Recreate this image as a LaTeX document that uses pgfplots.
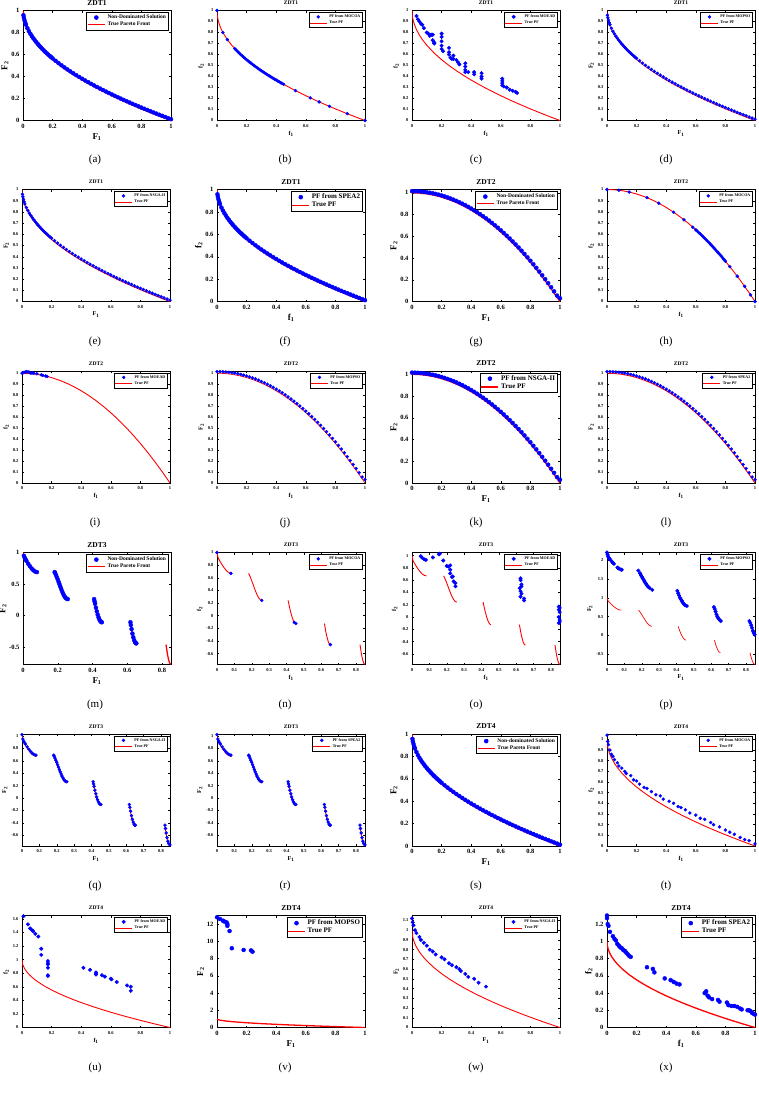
\documentclass[border=0pt]{standalone}
\usepackage{pgfplots}
\pgfplotsset{compat=1.18}
\usepackage{pgfplotstable}
\usepackage{fontspec}
\setmainfont{Liberation Serif}

\pgfplotstableread{
x y
0 1
0.002 0.9553
0.005 0.9293
0.01 0.9
0.02 0.8586
0.03 0.8268
0.05 0.7764
0.07 0.7354
0.1 0.6838
0.15 0.6127
0.2 0.5528
0.25 0.5
0.3 0.4523
0.35 0.4084
0.4 0.3675
0.45 0.3292
0.5 0.2929
0.55 0.2584
0.6 0.2254
0.65 0.1938
0.7 0.1633
0.75 0.1340
0.8 0.1056
0.85 0.0780
0.9 0.0513
0.95 0.0253
1 0
}\zdtonePF

\pgfplotstableread{
x y
0 1.01
0.003 0.957
0.006 0.9345
0.01 0.912
0.015 0.8895
0.02 0.8706
0.03 0.8388
0.04 0.812
0.05 0.7884
0.06 0.7671
0.07 0.7474
0.08 0.7292
0.09 0.712
0.1 0.6958
0.11 0.6803
0.12 0.6656
0.13 0.6514
0.14 0.6378
0.15 0.6247
0.16 0.612
0.17 0.5997
0.18 0.5877
0.19 0.5761
0.2 0.5648
0.22 0.543
0.24 0.5221
0.26 0.5021
0.28 0.4828
0.3 0.4643
0.32 0.4463
0.34 0.4289
0.36 0.412
0.38 0.3956
0.4 0.3795
0.42 0.3639
0.44 0.3487
0.46 0.3338
0.48 0.3192
0.5 0.3049
0.52 0.2909
0.54 0.2772
0.56 0.2637
0.58 0.2504
0.6 0.2374
0.62 0.2246
0.64 0.212
0.66 0.1996
0.68 0.1874
0.7 0.1753
0.72 0.1635
0.74 0.1518
0.76 0.1402
0.78 0.1288
0.8 0.1176
0.82 0.1065
0.84 0.0955
0.86 0.0846
0.88 0.0739
0.9 0.0633
0.92 0.0528
0.94 0.0425
0.96 0.0322
0.98 0.0221
1 0.012
}\zdtonePts

\pgfplotstableread{
x y
0 1
0.05 0.9975
0.1 0.99
0.15 0.9775
0.2 0.96
0.25 0.9375
0.3 0.91
0.35 0.8775
0.4 0.84
0.45 0.7975
0.5 0.75
0.55 0.6975
0.6 0.64
0.65 0.5775
0.7 0.51
0.75 0.4375
0.8 0.36
0.85 0.2775
0.9 0.19
0.95 0.0975
1 0
}\zdttwoPF

\pgfplotstableread{
x y
0 1.015
0.02 1.0146
0.04 1.0134
0.06 1.0114
0.08 1.0086
0.1 1.005
0.12 1.0006
0.14 0.9954
0.16 0.9894
0.18 0.9826
0.2 0.975
0.22 0.9666
0.24 0.9574
0.26 0.9474
0.28 0.9366
0.3 0.925
0.32 0.9126
0.34 0.8994
0.36 0.8854
0.38 0.8706
0.4 0.855
0.42 0.8386
0.44 0.8214
0.46 0.8034
0.48 0.7846
0.5 0.765
0.52 0.7446
0.54 0.7234
0.56 0.7014
0.58 0.6786
0.6 0.655
0.62 0.6306
0.64 0.6054
0.66 0.5794
0.68 0.5526
0.7 0.525
0.72 0.4966
0.74 0.4674
0.76 0.4374
0.78 0.4066
0.8 0.375
0.82 0.3426
0.84 0.3094
0.86 0.2754
0.88 0.2406
0.9 0.205
0.92 0.1686
0.94 0.1314
0.96 0.0934
0.98 0.0546
1 0.03
}\zdttwoPts

\pgfplotstableread{
x y
0 1
0.005 0.9285
0.01 0.8969
0.02 0.8468
0.03 0.8025
0.04 0.7620
0.05 0.7264
0.06 0.6980
0.07 0.6788
0.083 0.6697
nan nan
0.1822 0.6699
0.19 0.6228
0.2 0.5528
0.21 0.4768
0.22 0.4017
0.23 0.3343
0.24 0.2818
0.25 0.25
0.2578 0.2422
nan nan
0.4093 0.2423
0.415 0.1674
0.42 0.105
0.43 -0.0036
0.44 -0.0818
0.45 -0.1208
0.4539 -0.1242
nan nan
0.6184 -0.1242
0.625 -0.2325
0.63 -0.3034
0.64 -0.4087
0.645 -0.4402
0.6525 -0.4583
nan nan
0.8233 -0.4574
0.83 -0.5825
0.835 -0.6578
0.84 -0.7154
0.845 -0.7538
0.8518 -0.7733
}\zdtthreePF

\pgfplotstableread{
x y
0 1.02
0.005 0.9485
0.01 0.9169
0.015 0.8907
0.02 0.8668
0.03 0.8225
0.04 0.782
0.05 0.7464
0.06 0.718
0.07 0.6988
0.08 0.6902
0.1822 0.6899
0.185 0.6739
0.19 0.6428
0.195 0.6089
0.2 0.5728
0.205 0.5351
0.21 0.4968
0.215 0.4587
0.22 0.4217
0.225 0.3866
0.23 0.3543
0.235 0.3258
0.24 0.3018
0.245 0.283
0.25 0.27
0.2578 0.2622
0.4093 0.2623
0.412 0.2264
0.415 0.1874
0.42 0.125
0.425 0.0676
0.43 0.0164
0.435 -0.0271
0.44 -0.0618
0.445 -0.0866
0.45 -0.1008
0.4539 -0.1042
0.6184 -0.1042
0.621 -0.1486
0.625 -0.2125
0.63 -0.2834
0.635 -0.3427
0.64 -0.3887
0.645 -0.4202
0.65 -0.4362
0.6525 -0.4383
}\zdtthreePts

\pgfplotstableread{
x y
0.8233 -0.4374
0.826 -0.491
0.83 -0.5625
0.835 -0.6378
0.84 -0.6954
0.845 -0.7338
0.8518 -0.7533
}\zdtthreePtsE

\pgfplotstableread{
x y
0 1
0.04 0.8
0.07 0.7354
0.12 0.6536
0.13 0.6394
0.14 0.6258
0.15 0.6127
0.16 0.6
0.17 0.5877
0.18 0.5757
0.19 0.5641
0.2 0.5528
0.21 0.5417
0.22 0.5310
0.23 0.5204
0.24 0.5101
0.25 0.5
0.26 0.4901
0.27 0.4804
0.28 0.4708
0.29 0.4615
0.3 0.4523
0.31 0.4432
0.32 0.4343
0.33 0.4255
0.34 0.4169
0.35 0.4084
0.36 0.4
0.37 0.3917
0.38 0.3836
0.39 0.3755
0.4 0.3675
0.41 0.3597
0.42 0.3519
0.43 0.3443
0.44 0.3367
0.45 0.3292
0.53 0.2720
0.63 0.2063
0.69 0.1693
0.76 0.1282
0.88 0.0619
1 0
}\ptsB

\pgfplotstableread{
x y
0.03 0.95
0.04 0.92
0.05 0.9
0.06 0.88
0.07 0.87
0.08 0.84
0.1 0.8
0.11 0.79
0.12 0.77
0.13 0.78
0.14 0.78
0.14 0.73
0.15 0.71
0.15 0.7
0.2 0.79
0.2 0.76
0.2 0.72
0.2 0.68
0.2 0.65
0.21 0.63
0.25 0.66
0.25 0.62
0.25 0.6
0.26 0.57
0.27 0.56
0.28 0.59
0.28 0.56
0.3 0.55
0.31 0.53
0.32 0.51
0.36 0.52
0.36 0.49
0.36 0.46
0.36 0.44
0.38 0.44
0.42 0.44
0.42 0.42
0.47 0.43
0.47 0.4
0.47 0.38
0.61 0.38
0.61 0.36
0.61 0.34
0.61 0.32
0.62 0.31
0.64 0.3
0.66 0.28
0.68 0.27
0.7 0.26
0.71 0.25
}\ptsC

\pgfplotstableread{
x y
0 1
0.08 0.9936
0.15 0.9775
0.27 0.9271
0.35 0.8775
0.45 0.7975
0.52 0.7296
0.58 0.6636
0.6 0.64
0.61 0.6279
0.62 0.6156
0.63 0.6031
0.64 0.5904
0.65 0.5775
0.66 0.5644
0.67 0.5511
0.68 0.5376
0.69 0.5239
0.7 0.51
0.71 0.4959
0.72 0.4816
0.73 0.4671
0.74 0.4524
0.75 0.4375
0.76 0.4224
0.77 0.4071
0.78 0.3916
0.79 0.3759
0.8 0.36
0.83 0.3111
0.88 0.2256
0.93 0.1351
0.97 0.0591
1 0
}\ptsH

\pgfplotstableread{
x y
0 1.0
0.01 1.005
0.02 1.01
0.03 1.015
0.04 1.012
0.05 1.008
0.06 1.0
0.07 1.004
0.08 1.0
0.1 0.995
0.13 0.985
0.14 0.98
0.16 0.975
0.17 0.97
}\ptsI

\pgfplotstableread{
x y
0 1
0.08 0.6697
0.2578 0.2422
0.445 -0.1066
0.4539 -0.1242
0.6525 -0.4583
0.8518 -0.7733
}\ptsN

\pgfplotstableread{
x y
0.05 0.99
0.06 0.96
0.07 0.94
0.08 0.93
0.12 0.97
0.155 1.02
0.16 1.03
0.18 0.92
0.2 0.83
0.21 0.82
0.22 0.84
0.22 0.77
0.22 0.71
0.23 0.65
0.235 0.66
0.24 0.58
0.25 0.55
0.25 0.5
0.625 0.63
0.625 0.6
0.63 0.53
0.63 0.5
0.62 0.47
0.625 0.42
0.63 0.38
0.625 0.33
0.645 0.3
0.645 0.27
0.845 0.17
0.85 0.15
0.845 0.12
0.85 0.08
0.845 0.0
0.85 -0.05
0.845 -0.1
0.85 -0.08
}\ptsO

\pgfplotstableread{
x y
0 2.2
0.003 2.15
0.006 2.1
0.01 2.06
0.015 2.03
0.02 2.0
0.03 1.95
0.035 1.92
0.04 1.9
0.06 1.8
0.065 1.78
0.07 1.77
0.08 1.75
0.085 1.74
0.18 1.72
0.19 1.65
0.195 1.6
0.2 1.56
0.205 1.52
0.21 1.48
0.215 1.44
0.22 1.4
0.225 1.37
0.23 1.33
0.235 1.3
0.24 1.28
0.245 1.26
0.26 1.21
0.405 1.18
0.41 1.12
0.415 1.06
0.42 1.0
0.425 0.96
0.43 0.92
0.435 0.88
0.44 0.85
0.445 0.82
0.45 0.8
0.46 0.78
0.615 0.75
0.62 0.7
0.625 0.63
0.63 0.56
0.635 0.5
0.64 0.46
0.645 0.43
0.65 0.4
0.655 0.38
0.82 0.38
0.825 0.33
0.83 0.27
0.835 0.2
0.84 0.12
0.845 0.07
0.85 0.02
}\ptsP

\pgfplotstableread{
x y
0 1.04
0.005 0.98
0.01 0.95
0.02 0.9
0.03 0.86
0.04 0.84
0.05 0.81
0.07 0.78
0.08 0.75
0.1 0.73
0.12 0.7
0.13 0.68
0.16 0.66
0.18 0.62
0.2 0.61
0.22 0.58
0.25 0.55
0.27 0.54
0.3 0.51
0.33 0.48
0.36 0.47
0.38 0.44
0.42 0.42
0.45 0.4
0.48 0.37
0.5 0.36
0.53 0.34
0.56 0.31
0.6 0.29
0.63 0.26
0.66 0.25
0.7 0.22
0.72 0.2
0.76 0.18
0.8 0.15
0.83 0.13
0.86 0.11
0.9 0.08
0.93 0.06
0.96 0.05
1 0.02
}\ptsT

\pgfplotstableread{
x y
0.01 1.64
0.04 1.52
0.055 1.46
0.065 1.44
0.075 1.42
0.09 1.38
0.11 1.34
0.13 1.16
0.13 1.07
0.175 0.98
0.175 0.95
0.175 0.93
0.175 0.88
0.175 0.77
0.175 0.76
0.415 0.88
0.46 0.85
0.5 0.81
0.5 0.79
0.5 0.78
0.54 0.77
0.56 0.75
0.6 0.72
0.605 0.71
0.64 0.67
0.71 0.62
0.735 0.6
0.735 0.54
}\ptsU

\pgfplotstableread{
x y
0 12.8
0.02 12.6
0.04 12.4
0.05 12.3
0.065 12.2
0.07 12.0
0.07 11.8
0.085 11.2
0.1 9.2
0.18 9.0
0.23 8.95
0.24 8.8
}\ptsV

\pgfplotstableread{
x y
0 1.12
0.005 1.08
0.01 1.05
0.02 1.0
0.03 0.97
0.05 0.93
0.06 0.9
0.08 0.87
0.1 0.84
0.12 0.8
0.14 0.78
0.16 0.75
0.2 0.72
0.22 0.7
0.25 0.66
0.27 0.64
0.3 0.62
0.32 0.6
0.33 0.58
0.36 0.55
0.38 0.52
0.42 0.5
0.45 0.46
0.5 0.42
}\ptsW

\pgfplotstableread{
x y
0 1.3
0 1.27
0.005 1.2
0.01 1.18
0.02 1.11
0.04 1.06
0.05 1.03
0.06 1.01
0.07 0.97
0.08 0.95
0.09 0.93
0.1 0.92
0.11 0.9
0.12 0.89
0.13 0.87
0.14 0.85
0.15 0.83
0.16 0.82
0.27 0.7
0.31 0.68
0.32 0.64
0.39 0.57
0.43 0.55
0.45 0.53
0.47 0.51
0.49 0.5
0.66 0.4
0.67 0.42
0.68 0.37
0.69 0.35
0.71 0.33
0.75 0.32
0.76 0.3
0.81 0.29
0.82 0.26
0.84 0.25
0.86 0.25
0.88 0.24
0.9 0.22
0.91 0.21
0.95 0.2
0.96 0.2
0.97 0.19
0.98 0.17
0.99 0.16
1 0.15
}\ptsX

\pgfplotsset{
 base/.style={scale only axis, width=148pt, height=112pt, anchor=north west,
   xmin=0, xmax=1, ymin=0, ymax=1,
   axis line style={line width=0.5pt}, tick align=inside, major tick length=2pt,
   tick style={line width=0.4pt, black},
   /pgf/number format/assume math mode=true,
   scaled ticks=false,
   legend cell align=left,
   xtick={0,0.2,0.4,0.6,0.8,1},
   ytick={0,0.2,0.4,0.6,0.8,1},
 },
 big/.style={base,
   title style={font=\fontsize{7.5}{8}\selectfont\bfseries, inner sep=0.5pt, yshift=-1.5pt},
   tick label style={font=\fontsize{6.5}{7}\selectfont\bfseries},
   label style={font=\fontsize{9}{9}\selectfont\bfseries},
   xlabel style={yshift=2pt}, ylabel style={yshift=-4pt},
   legend style={font=\fontsize{5.5}{6}\selectfont\bfseries, draw=black, line width=0.5pt,
     at={(0.985,0.985)}, anchor=north east, inner sep=0.5pt, row sep=-2pt},
   pts/.style={only marks, mark=*, mark size=2pt, color=blue},
   pf/.style={red, line width=1.3pt, no marks},
 },
 bigleg/.style={legend style={font=\fontsize{7}{7.5}\selectfont\bfseries}},
 small/.style={base,
   title style={font=\fontsize{5.5}{6}\selectfont\bfseries, inner sep=0.5pt, yshift=-1pt},
   tick label style={font=\fontsize{4.5}{5}\selectfont\bfseries},
   label style={font=\fontsize{6}{6}\selectfont\bfseries},
   xlabel style={yshift=3pt}, ylabel style={yshift=-3pt},
   legend style={font=\fontsize{4}{4.5}\selectfont\bfseries, draw=black, line width=0.4pt,
     at={(0.985,0.985)}, anchor=north east, inner sep=0.3pt, row sep=-2pt},
   pts/.style={only marks, mark=*, mark size=1.5pt, color=blue},
   pf/.style={red, line width=0.9pt, no marks},
 },
 ytenth/.style={ytick={0,0.1,0.2,0.3,0.4,0.5,0.6,0.7,0.8,0.9,1}},
 zdtthree/.style={xmax=0.852, ymin=-0.773, ymax=1,
   xtick={0,0.1,0.2,0.3,0.4,0.5,0.6,0.7,0.8},
   ytick={-0.6,-0.4,-0.2,0,0.2,0.4,0.6,0.8,1}},
}

\newcommand{\F}[1]{F\textsubscript{#1}}
\newcommand{\f}[1]{f\textsubscript{#1}}

\begin{document}
\begin{tikzpicture}
\path[use as bounding box] (0,0) rectangle (759pt,-1103pt);

% ---------- Row 1 ----------
\begin{axis}[big, at={(23pt,-10.5pt)}, height=110pt, title={ZDT1}, xlabel={\F1}, ylabel={\F2}]
\addplot[pts] table {\zdtonePts}; \addlegendentry{Non-Dominated Solution}
\addplot[pf] table {\zdtonePF}; \addlegendentry{True Pareto Front}
\end{axis}
\begin{axis}[small, ytenth, at={(217pt,-10.5pt)}, height=110pt, title={ZDT1}, xlabel={\f1}, ylabel={\f2}]
\addplot[pts] table {\ptsB}; \addlegendentry{PF from MOCOA}
\addplot[pf] table {\zdtonePF}; \addlegendentry{True PF}
\end{axis}
\begin{axis}[small, ytenth, at={(412pt,-10.5pt)}, height=110pt, title={ZDT1}, xlabel={\f1}, ylabel={\f2}]
\addplot[pts, mark size=1.8pt] table {\ptsC}; \addlegendentry{PF from MOEAD}
\addplot[pf] table {\zdtonePF}; \addlegendentry{True PF}
\end{axis}
\begin{axis}[small, ytenth, at={(607pt,-10.5pt)}, height=110pt, title={ZDT1}, xlabel={\F1}, ylabel={\F2}]
\addplot[pts] table {\zdtonePts}; \addlegendentry{PF from MOPSO}
\addplot[pf, line width=0.7pt] table {\zdtonePF}; \addlegendentry{True PF}
\end{axis}
\node[font=\fontsize{11}{12}\selectfont] at (95pt,-160pt) {(a)};
\node[font=\fontsize{11}{12}\selectfont] at (285pt,-160pt) {(b)};
\node[font=\fontsize{11}{12}\selectfont] at (476pt,-160pt) {(c)};
\node[font=\fontsize{11}{12}\selectfont] at (666pt,-160pt) {(d)};

% ---------- Row 2 ----------
\begin{axis}[small, ytenth, at={(22pt,-189.5pt)}, title={ZDT1}, xlabel={\F1}, ylabel={\F2}]
\addplot[pts] table {\zdtonePts}; \addlegendentry{PF from NSGA-II}
\addplot[pf] table {\zdtonePF}; \addlegendentry{True PF}
\end{axis}
\begin{axis}[big, bigleg, at={(217pt,-189.5pt)}, title={ZDT1}, xlabel={\f1}, ylabel={\f2}]
\addplot[pts] table {\zdtonePts}; \addlegendentry{PF from SPEA2}
\addplot[pf] table {\zdtonePF}; \addlegendentry{True PF}
\end{axis}
\begin{axis}[big, ymax=1.03, at={(412pt,-189.5pt)}, title={ZDT2}, xlabel={\F1}, ylabel={\F2}]
\addplot[pts] table {\zdttwoPts}; \addlegendentry{Non-Dominated Solution}
\addplot[pf] table {\zdttwoPF}; \addlegendentry{True Pareto Front}
\end{axis}
\begin{axis}[small, ytenth, at={(607pt,-189.5pt)}, title={ZDT2}, xlabel={\f1}, ylabel={\f2}]
\addplot[pts] table {\ptsH}; \addlegendentry{PF from MOCOA}
\addplot[pf] table {\zdttwoPF}; \addlegendentry{True PF}
\end{axis}
\node[font=\fontsize{11}{12}\selectfont] at (95pt,-341.5pt) {(e)};
\node[font=\fontsize{11}{12}\selectfont] at (285pt,-341.5pt) {(f)};
\node[font=\fontsize{11}{12}\selectfont] at (476pt,-341.5pt) {(g)};
\node[font=\fontsize{11}{12}\selectfont] at (666pt,-341.5pt) {(h)};

% ---------- Row 3 ----------
\begin{axis}[small, ytenth, ymax=1.02, at={(22pt,-371pt)}, title={ZDT2}, xlabel={\f1}, ylabel={\f2}]
\addplot[pts] table {\ptsI}; \addlegendentry{PF from MOEAD}
\addplot[pf] table {\zdttwoPF}; \addlegendentry{True PF}
\end{axis}
\begin{axis}[small, ytenth, ymax=1.02, at={(217pt,-371pt)}, title={ZDT2}, xlabel={\f1}, ylabel={\F2}]
\addplot[pts] table {\zdttwoPts}; \addlegendentry{PF from MOPSO}
\addplot[pf, line width=0.7pt] table {\zdttwoPF}; \addlegendentry{True PF}
\end{axis}
\begin{axis}[big, bigleg, ymax=1.03, at={(412pt,-371pt)}, title={ZDT2}, xlabel={\F1}, ylabel={\F2}]
\addplot[pts] table {\zdttwoPts}; \addlegendentry{PF from NSGA-II}
\addplot[pf] table {\zdttwoPF}; \addlegendentry{True PF}
\end{axis}
\begin{axis}[small, ytenth, ymax=1.02, at={(607pt,-371pt)}, title={ZDT2}, xlabel={\f1}, ylabel={\F2}]
\addplot[pts] table {\zdttwoPts}; \addlegendentry{PF from SPEA2}
\addplot[pf] table {\zdttwoPF}; \addlegendentry{True PF}
\end{axis}
\node[font=\fontsize{11}{12}\selectfont] at (95pt,-523pt) {(i)};
\node[font=\fontsize{11}{12}\selectfont] at (285pt,-523pt) {(j)};
\node[font=\fontsize{11}{12}\selectfont] at (476pt,-523pt) {(k)};
\node[font=\fontsize{11}{12}\selectfont] at (666pt,-523pt) {(l)};

% ---------- Row 4 ----------
\begin{axis}[big, zdtthree, xtick={0,0.2,0.4,0.6,0.8}, ytick={-0.5,0,0.5,1}, at={(23pt,-552.5pt)}, title={ZDT3}, xlabel={\F1}, ylabel={\F2}]
\addplot[pts] table {\zdtthreePts}; \addlegendentry{Non-Dominated Solution}
\addplot[pf, unbounded coords=jump] table {\zdtthreePF}; \addlegendentry{True Pareto Front}
\end{axis}
\begin{axis}[small, zdtthree, at={(217pt,-552.5pt)}, title={ZDT3}, xlabel={\f1}, ylabel={\f2}]
\addplot[pts] table {\ptsN}; \addlegendentry{PF from MOCOA}
\addplot[pf, unbounded coords=jump] table {\zdtthreePF}; \addlegendentry{True PF}
\end{axis}
\begin{axis}[small, zdtthree, ymax=1.05, at={(412pt,-552.5pt)}, title={ZDT3}, xlabel={\f1}, ylabel={\f2}]
\addplot[pts, mark size=1.8pt] table {\ptsO}; \addlegendentry{PF from MOEAD}
\addplot[pf, unbounded coords=jump] table {\zdtthreePF}; \addlegendentry{True PF}
\end{axis}
\begin{axis}[small, zdtthree, ymax=2.2, ytick={-0.5,0,0.5,1,1.5,2}, at={(607pt,-552.5pt)}, title={ZDT3}, xlabel={\F1}, ylabel={\F2}]
\addplot[pts, mark size=1.8pt] table {\ptsP}; \addlegendentry{PF from MOPSO}
\addplot[pf, line width=0.7pt, unbounded coords=jump] table {\zdtthreePF}; \addlegendentry{True PF}
\end{axis}
\node[font=\fontsize{11}{12}\selectfont] at (95pt,-704.5pt) {(m)};
\node[font=\fontsize{11}{12}\selectfont] at (285pt,-704.5pt) {(n)};
\node[font=\fontsize{11}{12}\selectfont] at (476pt,-704.5pt) {(o)};
\node[font=\fontsize{11}{12}\selectfont] at (666pt,-704.5pt) {(p)};

% ---------- Row 5 ----------
\begin{axis}[small, zdtthree, ymax=1.03, at={(22pt,-734pt)}, title={ZDT3}, xlabel={\F1}, ylabel={\F2}]
\addplot[pts] table {\zdtthreePts}; \addlegendentry{PF from NSGA-II}
\addplot[pts, forget plot] table {\zdtthreePtsE};
\addplot[pf, unbounded coords=jump] table {\zdtthreePF}; \addlegendentry{True PF}
\end{axis}
\begin{axis}[small, zdtthree, ymax=1.03, at={(217pt,-734pt)}, title={ZDT3}, xlabel={\F1}, ylabel={\F2}]
\addplot[pts] table {\zdtthreePts}; \addlegendentry{PF from SPEA2}
\addplot[pts, forget plot] table {\zdtthreePtsE};
\addplot[pf, unbounded coords=jump] table {\zdtthreePF}; \addlegendentry{True PF}
\end{axis}
\begin{axis}[big, at={(412pt,-734pt)}, title={ZDT4}, xlabel={\F1}, ylabel={\F2}]
\addplot[pts] table {\zdtonePts}; \addlegendentry{Non-dominated Solution}
\addplot[pf] table {\zdtonePF}; \addlegendentry{True Pareto Front}
\end{axis}
\begin{axis}[small, ytenth, ymax=1.05, at={(607pt,-734pt)}, title={ZDT4}, xlabel={\f1}, ylabel={\f2}]
\addplot[pts] table {\ptsT}; \addlegendentry{PF from MOCOA}
\addplot[pf] table {\zdtonePF}; \addlegendentry{True PF}
\end{axis}
\node[font=\fontsize{11}{12}\selectfont] at (95pt,-886pt) {(q)};
\node[font=\fontsize{11}{12}\selectfont] at (285pt,-886pt) {(r)};
\node[font=\fontsize{11}{12}\selectfont] at (476pt,-886pt) {(s)};
\node[font=\fontsize{11}{12}\selectfont] at (666pt,-886pt) {(t)};

% ---------- Row 6 ----------
\begin{axis}[small, ymax=1.65, ytick={0,0.2,0.4,0.6,0.8,1,1.2,1.4,1.6}, at={(22pt,-915.5pt)}, title={ZDT4}, xlabel={\f1}, ylabel={\f2}]
\addplot[pts, mark size=1.8pt] table {\ptsU}; \addlegendentry{PF from MOEAD}
\addplot[pf] table {\zdtonePF}; \addlegendentry{True PF}
\end{axis}
\begin{axis}[big, bigleg, ymax=13, ytick={0,2,4,6,8,10,12}, at={(217pt,-915.5pt)}, title={ZDT4}, xlabel={\F1}, ylabel={\F2}]
\addplot[pts] table {\ptsV}; \addlegendentry{PF from MOPSO}
\addplot[pf] table {\zdtonePF}; \addlegendentry{True PF}
\end{axis}
\begin{axis}[small, ymax=1.15, ytick={0,0.1,0.2,0.3,0.4,0.5,0.6,0.7,0.8,0.9,1,1.1}, at={(412pt,-915.5pt)}, title={ZDT4}, xlabel={\F1}, ylabel={\F2}]
\addplot[pts, mark size=1.8pt] table {\ptsW}; \addlegendentry{PF from NSGA-II}
\addplot[pf] table {\zdtonePF}; \addlegendentry{True PF}
\end{axis}
\begin{axis}[big, bigleg, ymax=1.3, ytick={0,0.2,0.4,0.6,0.8,1,1.2}, at={(607pt,-915.5pt)}, title={ZDT4}, xlabel={\f1}, ylabel={\f2}]
\addplot[pts] table {\ptsX}; \addlegendentry{PF from SPEA2}
\addplot[pf] table {\zdtonePF}; \addlegendentry{True PF}
\end{axis}
\node[font=\fontsize{11}{12}\selectfont] at (95pt,-1067.5pt) {(u)};
\node[font=\fontsize{11}{12}\selectfont] at (285pt,-1067.5pt) {(v)};
\node[font=\fontsize{11}{12}\selectfont] at (476pt,-1067.5pt) {(w)};
\node[font=\fontsize{11}{12}\selectfont] at (666pt,-1067.5pt) {(x)};
\end{tikzpicture}
\end{document}
